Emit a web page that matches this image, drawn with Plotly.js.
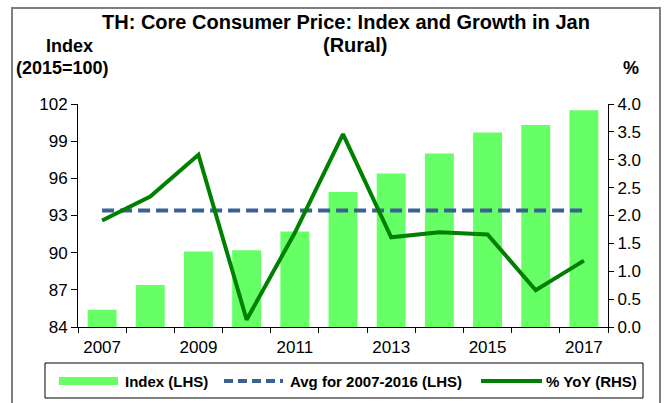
<!DOCTYPE html>
<html>
<head>
<meta charset="utf-8">
<script src="https://cdn.plot.ly/plotly-3.0.1.min.js"></script>
<style>
html,body{margin:0;padding:0;background:#fff;}
#chart{width:668px;height:403px;}
</style>
</head>
<body>
<div id="chart"></div>
<script>
var years = [2007, 2008, 2009, 2010, 2011, 2012, 2013, 2014, 2015, 2016, 2017];
var indexValues = [85.4, 87.4, 90.1, 90.2, 91.7, 94.9, 96.4, 98.0, 99.7, 100.3, 101.5];
var avgValue = 93.4;
var yoyValues = [1.91, 2.34, 3.09, 0.13, 1.69, 3.46, 1.61, 1.70, 1.66, 0.66, 1.19];
var xTickVals = [2007, 2009, 2011, 2013, 2015, 2017];
var xTickText = ['2007', '2009', '2011', '2013', '2015', '2017'];
var boundaries = [2006.5, 2007.5, 2008.5, 2009.5, 2010.5, 2011.5, 2012.5, 2013.5, 2014.5, 2015.5, 2016.5, 2017.5];
var avgLine = years.map(function () { return avgValue; });

var W = 668, H = 403;
var mL = 78, mR = 60, mT = 104, mB = 76;
var pw = W - mL - mR, ph = H - mT - mB;
function px(x) { return (x - mL) / pw; }
function py(y) { return (H - mB - y) / ph; }

var traces = [
  { type: 'bar', x: years, y: indexValues, width: 0.6, marker: { color: '#66FF66' }, yaxis: 'y', hoverinfo: 'x+y' },
  { type: 'scatter', mode: 'lines', x: years, y: avgLine, line: { color: '#3A6094', width: 4, dash: '12px,6px' }, yaxis: 'y' },
  { type: 'scatter', mode: 'lines', x: years, y: yoyValues, line: { color: '#008000', width: 4 }, yaxis: 'y2' }
];

var font = 'Arial, "Liberation Sans", sans-serif';
var shapes = [
  { type: 'rect', xref: 'paper', yref: 'paper', x0: px(12), x1: px(660), y0: py(410), y1: py(8), line: { color: '#7f7f7f', width: 2 }, layer: 'below' },
  { type: 'rect', xref: 'paper', yref: 'paper', x0: px(45), x1: px(643), y0: py(398), y1: py(363), line: { color: '#000', width: 1 } },
  { type: 'rect', xref: 'paper', yref: 'paper', x0: px(59), x1: px(118), y0: py(385), y1: py(377), fillcolor: '#66FF66', line: { width: 0 } },
  { type: 'line', xref: 'paper', yref: 'paper', x0: px(224), x1: px(283), y0: py(381), y1: py(381), line: { color: '#3A6094', width: 4, dash: '9px,5px' } },
  { type: 'line', xref: 'paper', yref: 'paper', x0: px(481), x1: px(542), y0: py(381), y1: py(381), line: { color: '#008000', width: 4 } }
];

var annotations = [
  { text: '<b>TH: Core Consumer Price: Index and Growth in Jan</b>', x: px(346), y: py(22), xref: 'paper', yref: 'paper', showarrow: false, font: { family: font, size: 20, color: '#000' }, xanchor: 'center', yanchor: 'middle' },
  { text: '<b>(Rural)</b>', x: px(355), y: py(45), xref: 'paper', yref: 'paper', showarrow: false, font: { family: font, size: 20, color: '#000' }, xanchor: 'center', yanchor: 'middle' },
  { text: '<b>Index</b>', x: px(69), y: py(46), xref: 'paper', yref: 'paper', showarrow: false, font: { family: font, size: 18, color: '#000' }, xanchor: 'center', yanchor: 'middle' },
  { text: '<b>(2015=100)</b>', x: px(62), y: py(68), xref: 'paper', yref: 'paper', showarrow: false, font: { family: font, size: 18, color: '#000' }, xanchor: 'center', yanchor: 'middle' },
  { text: '<b>%</b>', x: px(631), y: py(68), xref: 'paper', yref: 'paper', showarrow: false, font: { family: font, size: 18, color: '#000' }, xanchor: 'center', yanchor: 'middle' },
  { text: '<b>Index (LHS)</b>', x: px(123), y: py(381), xref: 'paper', yref: 'paper', showarrow: false, font: { family: font, size: 15, color: '#000' }, xanchor: 'left', yanchor: 'middle' },
  { text: '<b>Avg for 2007-2016 (LHS)</b>', x: px(288), y: py(381), xref: 'paper', yref: 'paper', showarrow: false, font: { family: font, size: 15, color: '#000' }, xanchor: 'left', yanchor: 'middle' },
  { text: '<b>% YoY (RHS)</b>', x: px(544), y: py(381), xref: 'paper', yref: 'paper', showarrow: false, font: { family: font, size: 15, color: '#000' }, xanchor: 'left', yanchor: 'middle' }
];

var layout = {
  width: W, height: H,
  margin: { l: mL, r: mR, t: mT, b: mB, pad: 0 },
  paper_bgcolor: '#fff', plot_bgcolor: '#fff',
  showlegend: false,
  font: { family: font, size: 17, color: '#000' },
  xaxis: {
    type: 'linear', range: [2006.5, 2017.5],
    tickvals: xTickVals, ticktext: xTickText,
    ticks: 'outside', ticklen: 5, tickcolor: 'rgba(0,0,0,0)',
    showgrid: false, zeroline: false,
    showline: true, linecolor: '#000', linewidth: 1,
    tickfont: { family: font, size: 17 },
    minor: { tickvals: boundaries, ticks: 'outside', ticklen: 5, tickcolor: '#000', showgrid: false }
  },
  yaxis: {
    range: [84, 102], dtick: 3, tick0: 84,
    ticks: 'outside', ticklen: 6, tickcolor: '#000',
    showgrid: false, zeroline: false,
    showline: true, linecolor: '#000', linewidth: 1,
    tickfont: { family: font, size: 17 }
  },
  yaxis2: {
    overlaying: 'y', side: 'right',
    range: [0, 4], dtick: 0.5, tick0: 0, tickformat: '.1f',
    ticks: 'outside', ticklen: 5, tickcolor: '#000',
    showgrid: false, zeroline: false,
    showline: true, linecolor: '#000', linewidth: 1,
    tickfont: { family: font, size: 17 }
  },
  shapes: shapes,
  annotations: annotations
};

Plotly.newPlot('chart', traces, layout, { displayModeBar: false, staticPlot: true });
</script>
</body>
</html>
